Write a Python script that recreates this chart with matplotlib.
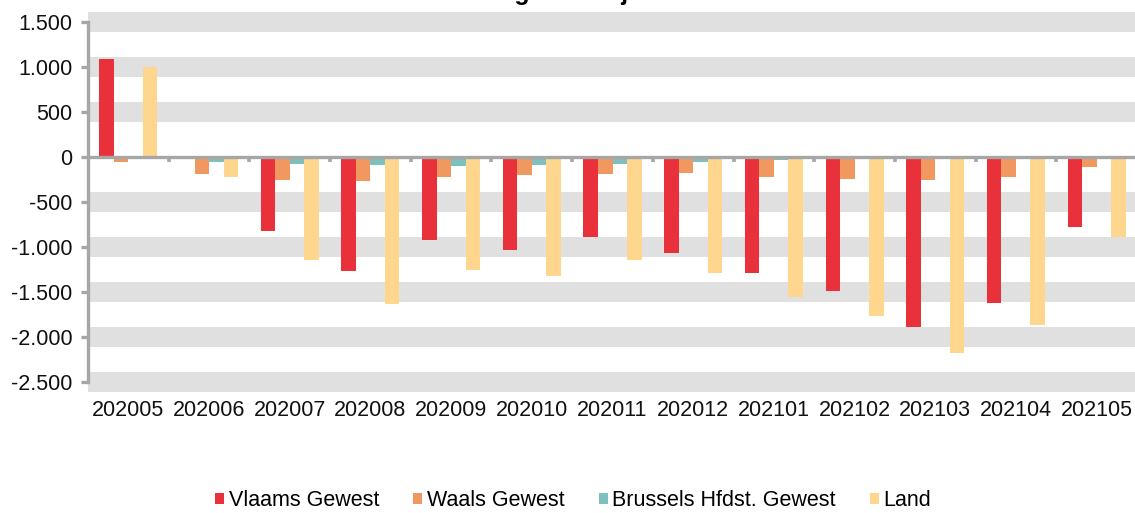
import matplotlib
matplotlib.use("Agg")
import matplotlib.pyplot as plt
import numpy as np
from matplotlib.ticker import FuncFormatter, FixedLocator
from matplotlib.patches import Patch

# ---- data ----
months = ["202005", "202006", "202007", "202008", "202009", "202010", "202011",
          "202012", "202101", "202102", "202103", "202104", "202105"]
vlaams = [1093, 10, -818, -1266, -926, -1037, -889, -1063, -1285, -1489, -1889, -1626, -778]
waals = [-59, -185, -252, -266, -222, -204, -189, -174, -222, -248, -259, -218, -111]
brussel = [-20, -55, -81, -92, -103, -89, -74, -55, -35, -18, -8, -6, -4]
land = [1000, -222, -1148, -1630, -1252, -1322, -1141, -1289, -1556, -1767, -2178, -1870, -889]
series_names = ["Vlaams Gewest", "Waals Gewest", "Brussels Hfdst. Gewest", "Land"]
y_ticks = [-2500, -2000, -1500, -1000, -500, 0, 500, 1000, 1500]
title = "Verandering t.o.v. 1 jaar eerder"

colors = ["#E8313A", "#F19760", "#7EC0BE", "#FED68E"]
gray = "#A6A6A6"
band = "#E0E0E0"

plt.rcParams['font.family'] = ['Liberation Sans', 'DejaVu Sans']
FS = 15.5

W, H = 1135, 513
fig = plt.figure(figsize=(W / 100, H / 100), dpi=100)
left, right, top, bottom = 88, 1137, 22, 382
ax = fig.add_axes([left / W, 1 - bottom / H, (right - left) / W, (bottom - top) / H])

x = np.arange(len(months))
bw = 0.18
offsets = [-1.5 * bw, -0.5 * bw, 0.5 * bw, 1.5 * bw]
all_series = [vlaams, waals, brussel, land]

# thick band gridlines (except at zero)
for yt in y_ticks:
    if yt != 0:
        ax.axhline(yt, color=band, lw=14.4, zorder=0, clip_on=False,
                   solid_capstyle="butt")

for vals, off, c in zip(all_series, offsets, colors):
    ax.bar(x + off, vals, width=bw, color=c, zorder=2, linewidth=0)

ax.set_xlim(-0.5, len(months) - 0.5)
ax.set_ylim(-2500, 1500)

# spines
for s in ["top", "right"]:
    ax.spines[s].set_visible(False)
ax.spines["left"].set_color(gray)
ax.spines["left"].set_linewidth(2.4)
ax.spines["left"].set_zorder(3)
ax.spines["bottom"].set_position(("data", 0))
ax.spines["bottom"].set_color(gray)
ax.spines["bottom"].set_linewidth(2.4)
ax.spines["bottom"].set_zorder(3)

# x ticks at category boundaries on the zero axis
ax.xaxis.set_major_locator(FixedLocator(np.arange(0.5, len(months), 1.0)))
ax.tick_params(axis="x", direction="out", length=3.5, width=2.6, color=gray,
               labelbottom=False)

# y ticks
ax.yaxis.set_major_locator(FixedLocator(y_ticks))
ax.yaxis.set_major_formatter(FuncFormatter(lambda v, p: f"{int(v):,}".replace(",", ".")))
ax.tick_params(axis="y", direction="out", length=5, width=2.4, color=gray,
               labelsize=FS, labelcolor="#111111", pad=6)

# category labels at the bottom of the plot
sec = ax.secondary_xaxis("bottom")
sec.set_xticks(x)
sec.set_xticklabels(months)
sec.tick_params(axis="x", length=0, labelsize=FS, labelcolor="#111111", pad=13)
sec.spines["bottom"].set_visible(False)

# legend
handles = [Patch(facecolor=c, edgecolor="none") for c in colors]
fig.legend(handles, series_names, loc="center", bbox_to_anchor=(0.505, 1 - 501 / H),
           ncol=4, frameon=False, fontsize=FS, handlelength=0.42, handleheight=0.42,
           handletextpad=0.2, columnspacing=1.6, borderaxespad=0, borderpad=0)

# title (mostly cropped above the canvas, as in the reference)
fig.text(0.5, 1.0, title, ha="center", va="baseline", fontsize=18,
         fontweight="bold", color="black")

fig.savefig("out.png", dpi=100)
